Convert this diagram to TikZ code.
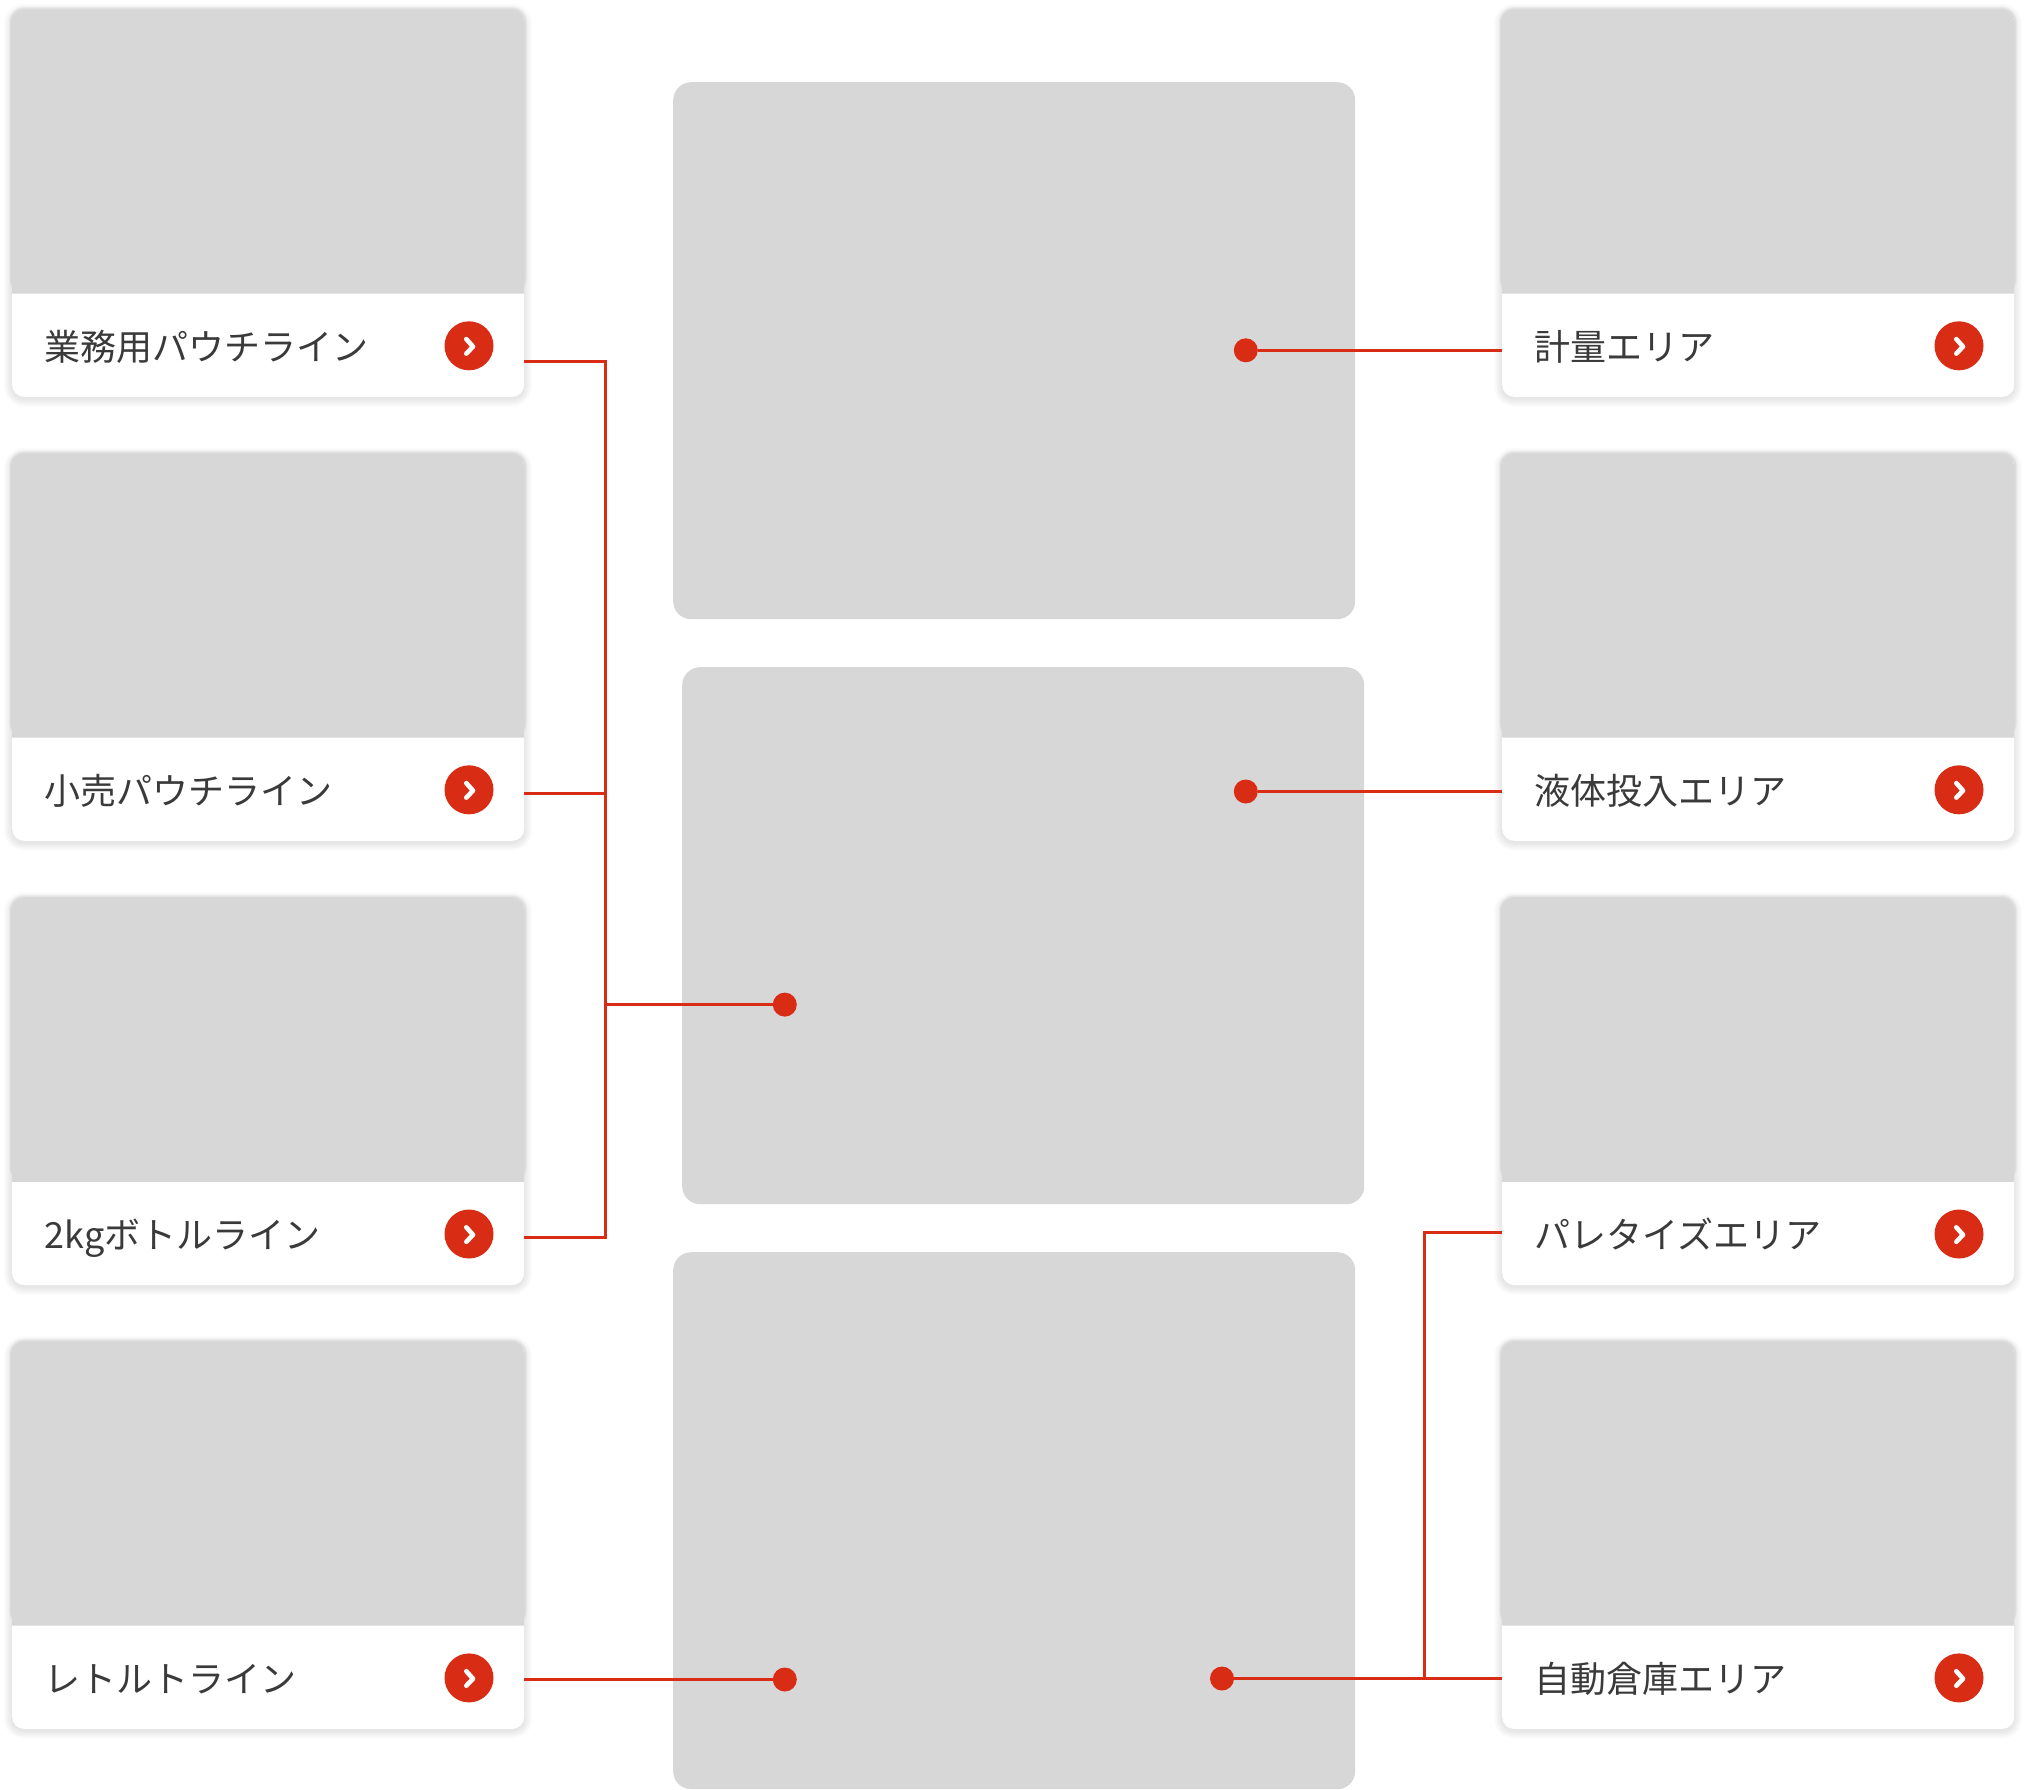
\documentclass[tikz,border=0pt]{standalone}
\usepackage{fontspec}
\setmainfont{Noto Sans CJK JP}
\definecolor{panelgrey}{HTML}{D7D7D7}
\definecolor{accent}{HTML}{D92C14}
\definecolor{inktext}{HTML}{3A3A3A}
\tikzset{
  panel/.style={fill=panelgrey,rounded corners=18pt,inner sep=0pt,minimum width=682pt,minimum height=537pt,anchor=north west},
  cardbody/.style={fill=white,rounded corners=12pt,inner sep=0pt,minimum width=512pt,minimum height=387pt,anchor=north west},
  cardlabel/.style={anchor=base west,inner sep=0pt,text=inktext,font=\fontsize{36pt}{36pt}\selectfont},
  badge/.style={circle,fill=accent,inner sep=0pt,minimum size=49pt},
  chevron/.style={draw=white,line width=4.6pt,line cap=round,line join=round},
  wire/.style={draw=accent,line width=3pt,line join=miter},
  enddot/.style={circle,fill=accent,inner sep=0pt,minimum size=24pt}
}
% #1 name, #2 left x, #3 top y, #4 label, #5 wire port y (absolute), #6 port side x
\newcommand{\cardrow}[6]{%
  \foreach \s in {1,...,8}{
    \fill[black,opacity=0.012,rounded corners={12pt+\s pt}]
      ({#2-\s},{#3+2-\s}) rectangle ({#2+512+\s},{#3+387+2+\s});
  }
  \foreach \s in {1,2,3}{
    \fill[black,opacity=0.025,rounded corners={12pt+\s pt}]
      ({#2-\s},{#3-\s}) rectangle ({#2+512+\s},{#3+284});
  }
  \node[cardbody] (card#1) at (#2,#3) {};
  \fill[panelgrey,rounded corners=12pt]
    (#2,{#3+284}) [sharp corners] -- (#2,{#3+100}) [rounded corners=12pt] -- (#2,#3) -- ({#2+512},#3) -- ({#2+512},{#3+100}) [sharp corners] -- ({#2+512},{#3+284}) -- cycle;
  \node[cardlabel] (text#1) at ({#2+32.7},{#3+350.5}) {#4};
  \node[badge] (badge#1) at ({#2+457},{#3+336.2}) {};
  \draw[chevron] ({#2+454.3},{#3+329.5}) -- ({#2+461},{#3+337}) -- ({#2+454.3},{#3+344});
  \coordinate (port#1) at (#6,#5);
}
\begin{document}
\begin{tikzpicture}[x=1pt,y=-1pt]
\useasboundingbox (0,0) rectangle (2026,1789);
\fill[white] (0,0) rectangle (2026,1789);
% centre panels
\node[panel] (panelA) at (673,82) {};
\node[panel] (panelB) at (682,667) {};
\node[panel] (panelC) at (673,1252) {};
% cards, left column
\cardrow{L1}{12}{9.6}{業務用パウチライン}{361.7}{524}
\cardrow{L2}{12}{453.6}{小売パウチライン}{793.4}{524}
\cardrow{L3}{12}{897.8}{2kgボトルライン}{1237.8}{524}
\cardrow{L4}{12}{1341.7}{レトルトライン}{1679.5}{524}
% cards, right column
\cardrow{R1}{1502}{9.6}{計量エリア}{350.3}{1502}
\cardrow{R2}{1502}{453.6}{液体投入エリア}{791.5}{1502}
\cardrow{R3}{1502}{897.8}{パレタイズエリア}{1232.3}{1502}
\cardrow{R4}{1502}{1341.7}{自動倉庫エリア}{1678.5}{1502}
% end dots
\node[enddot] (dotA) at (1245.8,350.3) {};
\node[enddot] (dotB) at (1245.8,791.5) {};
\node[enddot] (dotC) at (784.8,1004.6) {};
\node[enddot] (dotD) at (784.8,1679.5) {};
\node[enddot] (dotE) at (1222,1678.5) {};
% junctions
\coordinate (busLtop) at (605,361.7);
\coordinate (busLbot) at (605,1237.8);
\coordinate (busLmid) at (605,793.4);
\coordinate (busLdot) at (605,1004.6);
\coordinate (busRtop) at (1424.3,1232.3);
\coordinate (busRbot) at (1424.3,1678.5);
% connectors
\draw[wire] (portL1) -- (busLtop) -- (busLbot) -- (portL3);
\draw[wire] (portL2) -- (busLmid);
\draw[wire] (busLdot) -- (dotC);
\draw[wire] (portL4) -- (dotD);
\draw[wire] (dotA) -- (portR1);
\draw[wire] (dotB) -- (portR2);
\draw[wire] (portR3) -- (busRtop) -- (busRbot);
\draw[wire] (dotE) -- (portR4);
\end{tikzpicture}
\end{document}
